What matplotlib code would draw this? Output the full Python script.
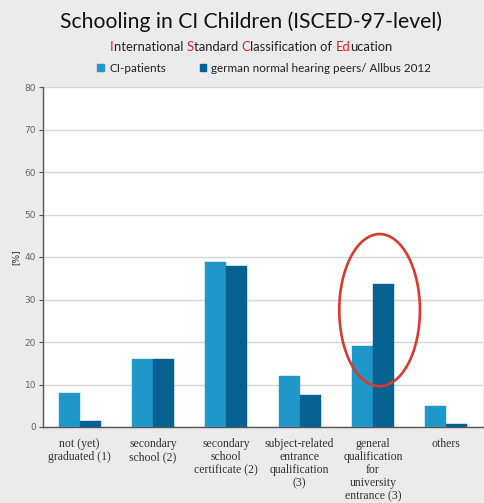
import matplotlib
matplotlib.use("Agg")
import matplotlib.pyplot as plt
from matplotlib.patches import Ellipse, Patch
import numpy as np

categories = ["not (yet)\ngraduated (1)", "secondary\nschool (2)", "secondary\nschool\ncertificate (2)",
              "subject-related\nentrance\nqualification\n(3)", "general\nqualification\nfor\nuniversity\nentrance (3)",
              "others"]
ci_patients = [7.9, 15.9, 38.9, 11.9, 19.0, 4.9]
peers = [1.4, 15.9, 38.0, 7.6, 33.7, 0.6]
yticks = [0, 10, 20, 30, 40, 50, 60, 70, 80]
series_names = ["CI-patients", "german normal hearing peers/ Allbus 2012"]

c_ci = "#1f97c9"
c_peer = "#05618f"
bg = "#ebebeb"

fig = plt.figure(figsize=(4.85, 5.03), dpi=100, facecolor=bg)
ax = fig.add_axes([43/485, 76/503, 440/485, 340/503])
ax.set_facecolor("white")

x = np.arange(len(categories))
w = 0.285
ax.bar(x - w/2, ci_patients, w, color=c_ci, edgecolor=c_ci, linewidth=0.3, zorder=3)
ax.bar(x + w/2, peers, w, color=c_peer, edgecolor=c_peer, linewidth=0.3, zorder=3)

ax.set_xlim(-0.5, len(categories) - 0.5)
ax.set_ylim(0, 80)
ax.set_yticks(yticks)
ax.set_yticklabels([str(v) for v in yticks], fontsize=6.5, color="#666666", family="DejaVu Sans")
ax.grid(axis="y", color="#d6d6d6", linewidth=1.0, zorder=0)
ax.set_xticks(x)
ax.set_xticklabels(categories, fontsize=8.5, color="#333333", family="Liberation Serif", linespacing=1.12)
ax.tick_params(axis="x", length=0, pad=8)
ax.tick_params(axis="y", length=3, width=0.8, color="#555555", pad=2)
for s in ["top", "right"]:
    ax.spines[s].set_visible(False)
for s in ["left", "bottom"]:
    ax.spines[s].set_color("#555555")
    ax.spines[s].set_linewidth(1.0)
ax.set_ylabel("[%]", fontsize=6.5, color="#333333", labelpad=3)

# red ellipse highlight
ell = Ellipse((4.09, 27.5), 1.10, 35.8, fill=False, edgecolor="#d93a2e", linewidth=1.9, zorder=5, clip_on=False)
ax.add_patch(ell)

# title
fig.text(0.518, 1 - 22/503, "Schooling in CI Children (ISCED-97-level)", ha="center", va="center",
         fontsize=15.2, family="Lato", color="#111111")

# subtitle with red letters
pieces = [("I", "#e02020"), ("nternational ", "#222222"), ("S", "#e02020"), ("tandard ", "#222222"),
          ("C", "#e02020"), ("lassification of ", "#222222"), ("Ed", "#e02020"), ("ucation", "#222222")]
fig.canvas.draw()
renderer = fig.canvas.get_renderer()
texts = []
widths = []
for s, col in pieces:
    t = fig.text(0, 1 - 47/503, s, ha="left", va="center", fontsize=9.4, family="Lato", color=col)
    texts.append(t)
    widths.append(t.get_window_extent(renderer).width)
total = sum(widths)
xstart = 0.518 * 485 - total / 2
cur = xstart
for t, wd in zip(texts, widths):
    t.set_x(cur / 485)
    cur += wd

# legend
handles = [Patch(facecolor=c_ci, edgecolor=c_ci), Patch(facecolor=c_peer, edgecolor=c_peer)]
fig.legend(handles, series_names, loc="center", bbox_to_anchor=(0.545, 1 - 68/503), ncol=2, frameon=False,
           handlelength=0.55, handleheight=0.55, handletextpad=0.45, columnspacing=2.9,
           prop={"family": "Lato", "size": 8.4}, labelcolor="#222222")

fig.savefig("out.png", dpi=100, facecolor=bg)
